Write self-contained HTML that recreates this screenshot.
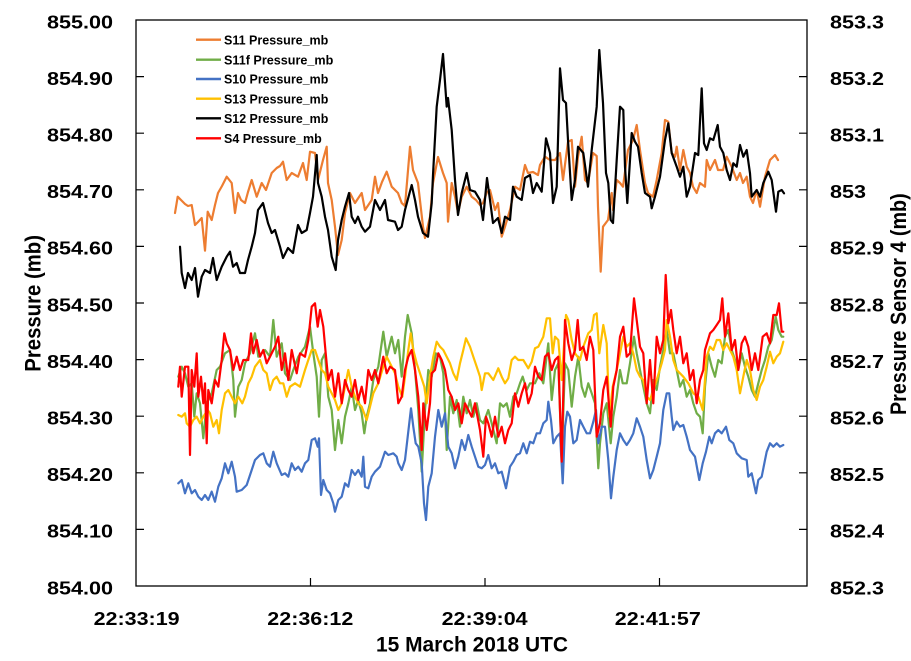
<!DOCTYPE html>
<html><head><meta charset="utf-8"><style>
html,body{margin:0;padding:0;background:#fff;}
svg{display:block;}
text{font-family:"Liberation Sans",Arial,sans-serif;font-weight:bold;fill:#000;}
.s{fill:none;stroke-width:2.2;stroke-linejoin:round;stroke-linecap:round;}
</style></head><body>
<svg width="911" height="661" viewBox="0 0 911 661" xmlns="http://www.w3.org/2000/svg">
<rect x="0" y="0" width="911" height="661" fill="#fff"/>
<!-- frame -->
<rect x="136" y="20" width="671" height="566" fill="none" stroke="#000" stroke-width="1.3"/>
<!-- ticks -->
<g stroke="#000" stroke-width="1.2">
<path d="M136 76.6h8M136 133.2h8M136 189.8h8M136 246.4h8M136 303h8M136 359.6h8M136 416.2h8M136 472.8h8M136 529.4h8"/>
<path d="M807 76.6h-8M807 133.2h-8M807 189.8h-8M807 246.4h-8M807 303h-8M807 359.6h-8M807 416.2h-8M807 472.8h-8M807 529.4h-8"/>
<path d="M310.5 586v-8M485 586v-8M659.5 586v-8"/>
</g>
<!-- left tick labels -->
<g font-size="18.6">
<text x="47" y="28.3" textLength="66" lengthAdjust="spacingAndGlyphs">855.00</text>
<text x="47" y="84.9" textLength="66" lengthAdjust="spacingAndGlyphs">854.90</text>
<text x="47" y="141.5" textLength="66" lengthAdjust="spacingAndGlyphs">854.80</text>
<text x="47" y="198.1" textLength="66" lengthAdjust="spacingAndGlyphs">854.70</text>
<text x="47" y="254.7" textLength="66" lengthAdjust="spacingAndGlyphs">854.60</text>
<text x="47" y="311.3" textLength="66" lengthAdjust="spacingAndGlyphs">854.50</text>
<text x="47" y="367.9" textLength="66" lengthAdjust="spacingAndGlyphs">854.40</text>
<text x="47" y="424.5" textLength="66" lengthAdjust="spacingAndGlyphs">854.30</text>
<text x="47" y="481.1" textLength="66" lengthAdjust="spacingAndGlyphs">854.20</text>
<text x="47" y="537.7" textLength="66" lengthAdjust="spacingAndGlyphs">854.10</text>
<text x="47" y="594.3" textLength="66" lengthAdjust="spacingAndGlyphs">854.00</text>
</g>
<!-- right tick labels -->
<g font-size="18.6">
<text x="830" y="28.3" textLength="54" lengthAdjust="spacingAndGlyphs">853.3</text>
<text x="830" y="84.9" textLength="54" lengthAdjust="spacingAndGlyphs">853.2</text>
<text x="830" y="141.5" textLength="54" lengthAdjust="spacingAndGlyphs">853.1</text>
<text x="830" y="198.1" textLength="36" lengthAdjust="spacingAndGlyphs">853</text>
<text x="830" y="254.7" textLength="54" lengthAdjust="spacingAndGlyphs">852.9</text>
<text x="830" y="311.3" textLength="54" lengthAdjust="spacingAndGlyphs">852.8</text>
<text x="830" y="367.9" textLength="54" lengthAdjust="spacingAndGlyphs">852.7</text>
<text x="830" y="424.5" textLength="54" lengthAdjust="spacingAndGlyphs">852.6</text>
<text x="830" y="481.1" textLength="54" lengthAdjust="spacingAndGlyphs">852.5</text>
<text x="830" y="537.7" textLength="54" lengthAdjust="spacingAndGlyphs">852.4</text>
<text x="830" y="594.3" textLength="54" lengthAdjust="spacingAndGlyphs">852.3</text>
</g>
<!-- x tick labels -->
<g font-size="18.6">
<text x="93.6" y="625" textLength="86" lengthAdjust="spacingAndGlyphs">22:33:19</text>
<text x="267.3" y="625" textLength="86" lengthAdjust="spacingAndGlyphs">22:36:12</text>
<text x="441.6" y="625" textLength="86" lengthAdjust="spacingAndGlyphs">22:39:04</text>
<text x="614.8" y="625" textLength="86" lengthAdjust="spacingAndGlyphs">22:41:57</text>
</g>
<!-- axis titles -->
<text x="376" y="651.7" font-size="21.5" textLength="192" lengthAdjust="spacingAndGlyphs">15 March 2018 UTC</text>
<text transform="translate(40.5,371.7) rotate(-90)" x="0" y="0" font-size="22" textLength="136.7" lengthAdjust="spacingAndGlyphs">Pressure (mb)</text>
<text transform="translate(906,415) rotate(-90)" x="0" y="0" font-size="22" textLength="221.7" lengthAdjust="spacingAndGlyphs">Pressure Sensor 4 (mb)</text>

<!-- legend -->
<g stroke-width="2.4">
<line x1="196" y1="39.7" x2="221" y2="39.7" stroke="#ED7D31"/>
<line x1="196" y1="59.7" x2="221" y2="59.7" stroke="#70AD47"/>
<line x1="196" y1="79" x2="221" y2="79" stroke="#4472C4"/>
<line x1="196" y1="98.7" x2="221" y2="98.7" stroke="#FFC000"/>
<line x1="196" y1="118.3" x2="221" y2="118.3" stroke="#000000"/>
<line x1="196" y1="138.3" x2="221" y2="138.3" stroke="#FF0000"/>
</g>
<g font-size="12.8">
<text x="224" y="44.3" textLength="104.3" lengthAdjust="spacingAndGlyphs">S11 Pressure_mb</text>
<text x="224" y="64.3" textLength="109.3" lengthAdjust="spacingAndGlyphs">S11f Pressure_mb</text>
<text x="224" y="83.6" textLength="104.3" lengthAdjust="spacingAndGlyphs">S10 Pressure_mb</text>
<text x="224" y="103.3" textLength="104.3" lengthAdjust="spacingAndGlyphs">S13 Pressure_mb</text>
<text x="224" y="122.9" textLength="104.3" lengthAdjust="spacingAndGlyphs">S12 Pressure_mb</text>
<text x="224" y="142.9" textLength="97.7" lengthAdjust="spacingAndGlyphs">S4 Pressure_mb</text>
</g>

<!-- S11 orange -->
<polyline class="s" stroke="#ED7D31" points="175,213 177.7,196.7 181,200 185,204 188,206 191.7,205 195,225 198,222 201.7,218 205,250.7 207.7,211.7 211.7,220 215,205 218,193 222,186 226.7,176.7 231.7,183 235,213 238,193 241,200 245,203 248,192 251.7,180 256.7,196.7 261.7,183 266,190 271.7,173 276.7,168 280,166 283,161.7 286.7,180 291.7,173 298,176.7 303,163 306.7,180 310,151.7 315,153 318,180 323,160 326.7,146.7 328,183 331.7,200 335,226.7 338,255 341.7,240 345,213 350,193 355,203 361.7,193 365,210 371.7,200 375,176.7 378,193 382,182 386.7,171.7 391.7,186.7 398,193 401.7,203 405,206 410,146.7 413,170 418,183 423,226.7 425,238 430,216.7 433,183 438,157 443,173 446.7,183 448,221.7 451.7,183 455,196.7 458,213 461.7,196.7 466.7,186.7 471.7,196.7 476,200 480,205 483,203 487,192 490,190 495,210 498,203 501.7,236.7 505,226.7 510,210 515,186.7 520,190 525,165 528,173 533,172 538,175 540,165 545,156.7 550,160 555,160 560,153 563,180 568,141.7 571.7,140 575,186.7 578,156.7 581.7,136.7 585,180 588,183 593,153 596.7,156 598,206.7 600.7,271.7 603,226.7 608,220 611.7,193 613,210 616.7,180 620,183 623,186.7 628,150 633,140 636.7,125 640,150 645,183 648,193 653,196.7 656.7,180 661.7,153 665,120 668.3,121.7 671.7,153 675,156.7 676.7,146.7 680,170 683.3,150 686.7,166.7 690,173 693,186.7 696.7,193 700,183 705,186.7 706.7,160 710,170 715,160 718,170 723,170 726.7,156.7 731.7,166.7 736.7,180 740,173 743,183 746.7,176.7 750,196.7 753,203 756.7,190 760,206.7 765,176.7 770,160 775,155 778,160"/>

<!-- S11f green -->
<polyline class="s" stroke="#70AD47" points="178.3,376.7 181.7,366.7 185,373.3 188.3,386.7 191.7,383.3 194.3,416.7 196.7,393.3 200,403.3 203.3,438.3 206.7,403.3 211.7,393.3 216.7,370 220,366.7 225,353.3 230,350 233.3,380 235,416.7 238.3,386.7 241.7,380 245,363.3 250,353.3 255,333.3 258.3,356.7 265,350 270,356.7 273.3,320 276.7,356.7 281.7,343.3 285,373.3 290,380 293.3,370 298.3,356.7 305,346.7 310,326.7 313.3,353.3 316.7,376.7 319,416.7 321.7,360 325,353.3 328.3,396.7 331.7,410 335,450 338.3,420 341.7,443.3 345,416.7 348.3,403.3 351.7,386.7 355,410 358.3,400 361.7,413.3 364.3,433.3 366.7,416.7 370,403.3 373.3,380 378.3,366.7 383.3,331.7 386.7,356.7 391.7,336.7 395,353.3 398.3,340 401.7,376.7 405,336.7 407.7,315 411.7,333.3 415,370 418.3,410 421.7,471.7 425,410 428.3,370 431.7,376.7 435.7,353.3 440,356.7 443.3,373.3 446.7,450 450,396.7 453.3,413.3 456.7,400 460,426.7 463.3,396.7 466.7,413.3 470,400 473.3,416.7 476.7,403.3 480,420 483.3,423.3 488.3,410 491.7,423.3 496.7,443.3 500,403.3 503.3,406.7 506.7,403.3 510,416.7 513.3,396.7 516.7,393.3 520,383.3 522.7,376.7 526.7,390 530,383.3 535,383.3 539.3,373.3 543.3,383.3 548.3,343.3 551.7,400 555,370 558.3,363.3 561.7,460 565,363.3 568.3,370 571.7,406.7 575,376.7 578.3,356.7 581.7,386.7 585,396.7 588.3,383.3 591.7,393.3 595,403.3 598.3,468.3 600,443.3 603.3,413.3 606.7,403.3 610.7,443.3 613.3,416.7 616.7,396.7 620,370 622.7,383.3 626.7,383.3 630,363.3 634,336.7 636.7,353.3 640,370 643.3,386.7 646.7,403.3 650,413.3 653.3,380 656.7,390 660,366.7 663.3,350 666.7,330 670,353.3 673.3,353.3 676.7,370 680,386.7 683.3,380 686.7,396.7 690,390 693.3,403.3 696.7,413.3 700,416.7 702.7,433.3 705,386.7 708.3,353.3 711.7,366.7 715,376.7 718.3,360 721.7,363.3 725,336.7 728.3,330 731.7,350 735,360 738.3,370 741.7,353.3 745,366.7 748.3,376.7 751.7,390 755,396.7 758.3,383.3 761.7,370 765,360 768.3,346.7 771.7,340 775.7,316.7 778.3,330 781.7,336.7 783.3,336.7"/>

<!-- S10 blue -->
<polyline class="s" stroke="#4472C4" points="178.3,483.3 181.7,480 185,493.3 188.3,483.3 191.7,493.3 195,490 198.3,496.7 201.7,500 205,495 208.3,500 211.7,491.7 215,501.7 218.3,486.7 221.7,478.3 225,463.3 228.3,473.3 231.7,461.7 235,476.7 236.7,491.7 241.7,490 246.7,485 251.7,470 255,460 260,455 263.3,453.3 266.7,463.3 270,466.7 273.3,451.7 276.7,463.3 281.7,475 285,473.3 288.3,476.7 291.7,463.3 295,470 298.3,466.7 301.7,471.7 305,463.3 308.3,460 311.7,440 315,438.3 317.7,446.7 319,438.3 321,495 323.3,480 326.7,490 330,493.3 333.3,503.3 335,511.7 338.3,500 341.7,496.7 345,483.3 348.3,486.7 351.7,470 355,475 358.3,470 361.7,476.7 363.3,456.7 365,486.7 368.3,488.3 371.7,476.7 375,471.7 380,466.7 385,451.7 388.3,455 393.3,453.3 396.7,456.7 398.3,463.3 401.7,470 405,460 407.7,436.7 411,408.3 413.3,426.7 415.7,443.3 418.3,446.7 421.7,463.3 424,503.3 426,520 428.3,486.7 431.7,473.3 435,436.7 438.3,410 441.7,426.7 445,413.3 448.3,446.7 451.7,453.3 455,468.3 458.3,456.7 461.7,440 465,450 468.3,435 471.7,446.7 475,456.7 478.3,466.7 481.7,468.3 485,465 488.3,455 491.7,468.3 495,463.3 498.3,473.3 501.7,471.7 506,488.3 510,466.7 513.3,461.7 516.7,455 520,453.3 523.3,443.3 526.7,453.3 530,441.7 533.3,443.3 536.7,433.3 540,433.3 543.3,423.3 546.7,420 548.3,401.7 551,420 553.3,443.3 556.7,436.7 560,433.3 562.7,483.3 565,426.7 567.3,411.7 570,416.7 573.3,443.3 576.7,440 580,420 583.3,426.7 586.7,433.3 590,433.3 593.3,421.7 596,410 598.3,443.3 601.7,426.7 605,426.7 608.3,460 611,498.3 613.3,476.7 616.7,450 620,433.3 623.3,440 626.7,445 630,440 633.3,433.3 636.7,418.3 640,426.7 643.3,436.7 646.7,460 650,478.3 653.3,470 656.7,456.7 660,443.3 663.3,410 666.7,393.3 669.3,393.3 671.7,416.7 673.3,430 676.7,421.7 680,426.7 683.3,425 686.7,436.7 690,450 695,456.7 699.3,480 702.7,463.3 706,451.7 709.3,436.7 711.7,443.3 715,433.3 718.3,430 721.7,433.3 726,426.7 729.3,440 733.3,443.3 736.7,453.3 741.7,458.3 746.7,460 748.3,476.7 751.7,473.3 756,493.3 758.3,480 761.7,476.7 765,460 766.7,451.7 770,443.3 773.3,446.7 776.7,443.3 780,446.7 783.3,445"/>

<!-- S13 yellow -->
<polyline class="s" stroke="#FFC000" points="178.3,415 181.7,416.7 185,413.3 186.7,423.3 190,426.7 193.3,420 196.7,416.7 200,423.3 203.3,416.7 207.7,410 210,413.3 213.3,426.7 216.7,420 219,433.3 221.7,410 225,393.3 228.3,390 231.7,396.7 235,403.3 238.3,396.7 242.3,403.3 245,396.7 248.3,383.3 251.7,376.7 255,366.7 260,360 263.3,370 266.7,373.3 270,390 273.3,380 276.7,376.7 280,383.3 283.3,383.3 286.7,396.7 290,386.7 295,383.3 300,386.7 305,370 308.3,360 311.7,350 315,350 318.3,360 321.7,370 325,373.3 328.3,386.7 331.7,393.3 335,400 338.3,410 341.7,403.3 345,386.7 348.3,370 351.7,386.7 355,396.7 358.3,403.3 361.7,406.7 366.7,420 370,406.7 373.3,393.3 378.3,383.3 383.3,366.7 386.7,356.7 390,363.3 395,373.3 398.3,386.7 402.3,396.7 405,376.7 408.3,350 410.7,333.3 413.3,350 416.7,363.3 420,373.3 424.3,386.7 426.7,403.3 430,376.7 433.3,356.7 436.7,341.7 440,346.7 443.3,350 446.7,356.7 450,363.3 453.3,373.3 456.7,380 460,363.3 463.3,350 466,338.3 470,346.7 473.3,356.7 476.7,366.7 480,376.7 481.7,390 485,373.3 488.3,373.3 493.3,380 498.3,368.3 501.7,376.7 505,383.3 508.3,378.3 511.7,360 515,356.7 518.3,360 523.3,360 528.3,368.3 531.7,361.7 535,348.3 538.3,346.7 543.3,336.7 546.7,318.3 550,318.3 552.7,353.3 555,336.7 558.3,340 561.7,380 566,315 568.3,320 571.7,340 575,353.3 580,360 583.3,346.7 588.3,333.3 591.7,330 594,315 596.7,313.3 599.3,353.3 603.3,325 606.7,343.3 609.3,416.7 612.7,386.7 616.7,370 620,353.3 623.3,336.7 626.7,346.7 630,343.3 633.3,353.3 636.7,370 640,376.7 643.3,380 646.7,396.7 650,400 653.3,390 656.7,380 661.7,363.3 665,350 666.7,320 670,336.7 673.3,360 676.7,370 680,373.3 683.3,376.7 688.3,383.3 693.3,393.3 698.3,396.7 702.7,410 706.7,356.7 710,346.7 713.3,350 716.7,340 720,340 723.3,350 726.7,343.3 730,350 733.3,356.7 736.7,370 740,393.3 743.3,376.7 746.7,360 750,370 753.3,390 756.7,400 760,386.7 763.3,380 766.7,366.7 770,351.7 773.3,363.3 776.7,356.7 780,353.3 783.3,341.7"/>

<!-- S12 black -->
<polyline class="s" stroke="#000000" points="180,246.7 181.7,273 185,288 188,273 191.7,280 195,268 198,296.7 201.7,276.7 205,270 210,273 213,258 216.7,280 221.7,266.7 226.7,256.7 230,251.7 233,266.7 236.7,263 240,273 245,273 248,260 251.7,246.7 255,233 258,210 263,203 268,223 271.7,233 275,230 280,246.7 283,258 288,248 293,253 298,225 301.7,233 306.7,230 310,213 313,196.7 316.7,155 318,183 321.7,196.7 325,216.7 328,230 331.7,256.7 335.7,270 338,240 341.7,220 345,206.7 349,193 351.7,216.7 355,223 358,216.7 361.7,226.7 365,231.7 370,226.7 375,200 380,210 385,200 388,220 395,221.7 398,230 401.7,226.7 405,210 411.7,185 415,200 418,216.7 423,233 428,236.7 431.7,203 433,175 436.7,106.7 440,80 443,54 446.7,106.7 448,98 451.7,130 455,180 458,215 461.7,193 466.7,173 470,190 475,191.7 480,200 483,220 487,178 490,200 493,223 498,218 501.7,233 505,216.7 510,220 513,186.7 516.7,196.7 521.7,200 525,178 530,175 533,193 536.7,183 541.7,191.7 546,138.3 550,153 553,203 556.7,186.7 560,68.3 563,100 566,103 568,140 571.7,200 575,180 578,146.7 583.3,153 588,186.7 591.7,150 596.7,106.7 599.3,50 603,103 606,173 608.3,183 610.7,220 613,223 616.7,160 620,106.7 623.3,110 625,166.7 627.3,203 631.7,133 635,141.7 638,146.7 641.7,173 645,193 650,196.7 651.7,208.3 655,196.7 660,176.7 665,140 668.3,123.3 671.7,153 676.7,166.7 680,176.7 683.3,166.7 686.7,196.7 690,186.7 695,153 698.3,155 701.7,88.3 704,143.3 706.7,150 710,138.3 713.3,140 717.7,125 720,146.7 723.3,153 726.7,170 730,180 733.3,163.3 736.7,166.7 740,145 743.3,156.7 746.7,150 750,173.3 751.7,196.7 756.7,190 760,196.7 763.3,183 768.3,171.7 771.7,180 776,211.7 778.3,191.7 781.7,190 784,193.3"/>

<!-- S4 red -->
<polyline class="s" stroke="#FF0000" points="178.3,386.7 180,366.7 181.7,396.7 185,366.7 188.3,366.7 190,455 191.7,370 194.3,386.7 196.7,353.3 198.3,396.7 201,376.7 203.3,403.3 205,383.3 206.7,443.3 208.3,390 211.7,403.3 215,380 218.3,386.7 221.7,360 224.3,333.3 226.7,343.3 230,350 233.3,370 236.7,356.7 240,370 243.3,360 248.3,360 251,333.3 253.3,353.3 256.7,340 260,356.7 263.3,350 266.7,363.3 271.7,353.3 275,346.7 278.3,336.7 281.7,370 285,353.3 288.3,380 291.7,350 296.7,373.3 300,353.3 305,356.7 308.3,340 311.7,306.7 315,303.3 317.7,326.7 320,310 323.3,326.7 325.7,353.3 328.3,380 331.7,370 335,396.7 338.3,373.3 341.7,403.3 345,380 348.3,390 351.7,396.7 355,380 358.3,400 361.7,386.7 365,403.3 368.3,370 371.7,380 375,370 378.3,383.3 383.3,356.7 386.7,373.3 390,366.7 395,370 398.3,403.3 401.7,396.7 405,370 408.3,356.7 411.7,350 415,370 418.3,396.7 421.7,450 423.3,403.3 426.7,430 430,403.3 431.7,373.3 435,370 438.3,353.3 441.7,360 445,370 448.3,390 451.7,396.7 455,410 458.3,403.3 461.7,423.3 465,403.3 468.3,410 471.7,416.7 475,403.3 480,430 483.3,456.7 486,416.7 488.3,423.3 491.7,436.7 495,416.7 498.3,436.7 501.7,426.7 505,443.3 508.3,430 511.7,423.3 515,393.3 518.3,406.7 521.7,393.3 525,383.3 528.3,403.3 531.7,393.3 535,366.7 538.3,376.7 541.7,380 545,356.7 548.3,353.3 551.7,370 555,360 558.3,356.7 561.7,461.7 565,320 568.3,343.3 571.7,360 575,350 577.7,320 580,350 583.3,346.7 586.7,360 590,336.7 593.3,350 596.7,436.7 600,423.3 603.3,390 606.7,376.7 610.7,426.7 613.3,386.7 616.7,370 620,336.7 623.3,326.7 626.7,356.7 630,353.3 634,298.3 636.7,320 640,346.7 643.3,353.3 646.7,403.3 650,360 653.3,403.3 656.7,336.7 660,353.3 663.3,340 665.7,275 668.3,323.3 671,310 673.3,330 676.7,353.3 680,336.7 683.3,363.3 686.7,353.3 690,380 693.3,370 696.7,403.3 700,380 703.3,370 705,350 710,333.3 713.3,330 716.7,325 720,320 722.3,298.3 725,336.7 728.3,313.3 731.7,350 735,340 738.3,370 741.7,343.3 745,336.7 748.3,346.7 751.7,370 755,353.3 758.3,370 762.7,336.7 766.7,333.3 770,343.3 773.3,315 776.7,315 779,303.3 781.7,331.7 783.3,331.7"/>
</svg>
</body></html>
